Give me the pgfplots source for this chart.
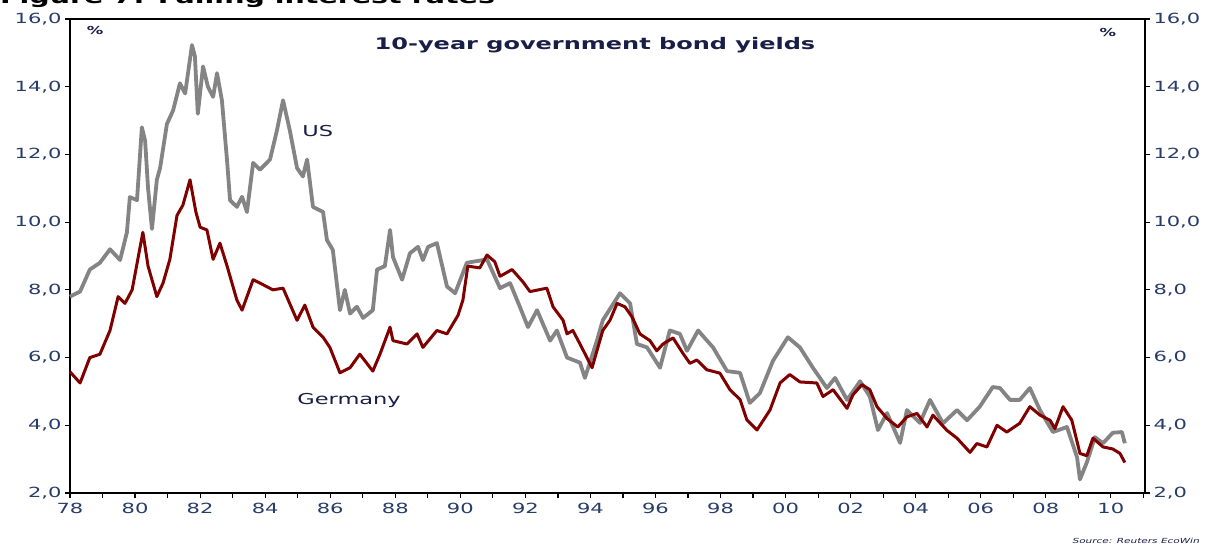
\documentclass[border=0pt]{standalone}
\usepackage{pgfplots}
\pgfplotsset{compat=1.18}
\usepackage{pgfplotstable}
\usepackage{fontspec}
\setmainfont{DejaVu Sans}
\newfontfamily\wide{DejaVu Sans}[FakeStretch=1.5]
\definecolor{ticklab}{RGB}{40,60,105}
\definecolor{usgray}{RGB}{132,132,132}
\definecolor{dered}{RGB}{128,0,0}
\definecolor{navy}{RGB}{25,30,70}

\pgfplotstableread{
year yield
1978.00 7.80
1978.31 7.95
1978.61 8.60
1978.92 8.80
1979.23 9.20
1979.54 8.88
1979.75 9.70
1979.84 10.74
1980.06 10.65
1980.21 12.80
1980.31 12.40
1980.40 11.00
1980.52 9.80
1980.67 11.25
1980.77 11.60
1980.98 12.90
1981.17 13.30
1981.38 14.10
1981.54 13.80
1981.75 15.23
1981.84 14.90
1981.93 13.20
1982.09 14.60
1982.24 14.00
1982.40 13.70
1982.52 14.40
1982.67 13.60
1982.83 11.80
1982.92 10.65
1983.13 10.45
1983.29 10.75
1983.44 10.30
1983.63 11.75
1983.84 11.55
1984.15 11.85
1984.36 12.70
1984.55 13.60
1984.76 12.70
1984.98 11.60
1985.16 11.35
1985.29 11.85
1985.47 10.45
1985.78 10.30
1985.90 9.47
1986.08 9.18
1986.30 7.40
1986.45 8.00
1986.61 7.30
1986.82 7.50
1987.01 7.17
1987.31 7.40
1987.44 8.60
1987.68 8.70
1987.84 9.77
1987.93 8.97
1988.21 8.30
1988.45 9.08
1988.70 9.27
1988.85 8.88
1989.01 9.27
1989.28 9.38
1989.59 8.10
1989.84 7.90
1990.20 8.80
1990.82 8.90
1991.22 8.05
1991.53 8.20
1991.83 7.50
1992.08 6.90
1992.36 7.40
1992.76 6.50
1992.97 6.80
1993.28 6.00
1993.68 5.85
1993.83 5.40
1994.20 6.50
1994.38 7.10
1994.91 7.90
1995.22 7.60
1995.43 6.40
1995.74 6.30
1996.14 5.70
1996.44 6.80
1996.75 6.70
1996.97 6.20
1997.31 6.80
1997.77 6.30
1998.20 5.60
1998.60 5.55
1998.90 4.66
1999.21 4.95
1999.61 5.90
2000.07 6.60
2000.44 6.30
2000.84 5.70
2001.27 5.10
2001.52 5.40
2001.89 4.75
2002.29 5.30
2002.59 4.85
2002.84 3.86
2003.12 4.36
2003.52 3.48
2003.73 4.45
2004.13 4.07
2004.44 4.75
2004.84 4.06
2005.27 4.45
2005.58 4.15
2005.97 4.55
2006.37 5.13
2006.59 5.10
2006.90 4.75
2007.20 4.75
2007.51 5.10
2007.82 4.45
2008.22 3.80
2008.65 3.95
2008.96 3.06
2009.05 2.40
2009.26 2.90
2009.51 3.65
2009.76 3.47
2010.06 3.78
2010.34 3.80
2010.43 3.47
}\us

\pgfplotstableread{
year yield
1978.00 5.58
1978.31 5.25
1978.61 6.00
1978.92 6.10
1979.23 6.80
1979.48 7.80
1979.69 7.60
1979.91 8.00
1980.24 9.70
1980.40 8.70
1980.67 7.80
1980.86 8.20
1981.07 8.90
1981.29 10.20
1981.47 10.50
1981.69 11.25
1981.87 10.30
1982.00 9.85
1982.21 9.77
1982.40 8.90
1982.61 9.38
1982.83 8.70
1983.13 7.70
1983.29 7.40
1983.63 8.30
1983.84 8.20
1984.24 8.00
1984.55 8.05
1984.98 7.10
1985.22 7.55
1985.47 6.90
1985.78 6.60
1985.99 6.30
1986.30 5.55
1986.61 5.70
1986.91 6.10
1987.31 5.60
1987.53 6.10
1987.84 6.90
1987.93 6.50
1988.36 6.40
1988.67 6.70
1988.85 6.30
1989.28 6.80
1989.59 6.70
1989.93 7.25
1990.08 7.70
1990.23 8.70
1990.60 8.65
1990.82 9.03
1991.06 8.83
1991.22 8.40
1991.59 8.60
1991.93 8.23
1992.14 7.95
1992.66 8.05
1992.85 7.50
1993.16 7.10
1993.28 6.70
1993.46 6.80
1993.68 6.40
1994.05 5.70
1994.38 6.80
1994.60 7.10
1994.82 7.60
1995.06 7.50
1995.28 7.20
1995.52 6.70
1995.83 6.50
1996.04 6.20
1996.23 6.40
1996.54 6.58
1996.84 6.13
1997.06 5.83
1997.27 5.93
1997.58 5.64
1997.98 5.54
1998.29 5.05
1998.60 4.76
1998.81 4.16
1999.12 3.86
1999.52 4.45
1999.83 5.25
2000.13 5.50
2000.44 5.28
2000.96 5.25
2001.15 4.85
2001.46 5.05
2001.89 4.50
2002.07 4.90
2002.35 5.20
2002.59 5.05
2002.81 4.55
2003.12 4.20
2003.45 3.95
2003.73 4.25
2004.04 4.35
2004.35 3.95
2004.53 4.30
2004.96 3.85
2005.27 3.62
2005.67 3.20
2005.88 3.46
2006.19 3.36
2006.50 4.00
2006.80 3.80
2007.20 4.06
2007.51 4.55
2007.82 4.30
2008.13 4.15
2008.28 3.90
2008.53 4.55
2008.80 4.15
2009.05 3.17
2009.26 3.10
2009.45 3.62
2009.76 3.36
2010.06 3.30
2010.28 3.17
2010.43 2.90
}\germany

\begin{document}
\begin{tikzpicture}
\pgfplotsset{
  bondaxis/.style={
    scale only axis, width=1075bp, height=474bp,
    xmin=1978, xmax=2011.05, ymin=2, ymax=16,
    axis line style={line width=1.6bp, black},
    ytick={2,4,...,16},
    tick align=outside,
    major tick length=5bp, minor tick length=5bp,
    every tick/.style={black, line width=1.2bp},
    tick label style={font=\wide\fontsize{14bp}{16bp}\selectfont, text=ticklab},
    yticklabel style={/pgf/number format/.cd, fixed, fixed zerofill, precision=1, use comma, assume math mode=true},
  }
}
\begin{axis}[
  bondaxis, name=main,
  xtick={1978,1980,...,2010},
  xticklabels={78,80,82,84,86,88,90,92,94,96,98,00,02,04,06,08,10},
  minor xtick={1979,1981,...,2011},
  xtick pos=lower, ytick pos=left,
  xticklabel style={yshift=-2bp},
  clip=false,
]
\addplot[usgray, line width=3.8bp, line join=round] table[x=year, y=yield] {\us};
\addplot[dered, line width=3bp, line join=round] table[x=year, y=yield] {\germany};
\node[font=\wide\bfseries\fontsize{16bp}{18bp}\selectfont, text=navy] at (axis cs:1994.14,15.23) {10-year government bond yields};
\node[font=\wide\fontsize{15bp}{17bp}\selectfont, text=navy] at (axis cs:1985.62,12.69) {US};
\node[font=\wide\fontsize{15bp}{17bp}\selectfont, text=navy] at (axis cs:1986.58,4.72) {Germany};
\node[font=\wide\bfseries\fontsize{11bp}{13bp}\selectfont, text=navy] at (axis cs:1978.77,15.65) {\%};
\node[font=\wide\bfseries\fontsize{11bp}{13bp}\selectfont, text=navy] at (axis cs:2009.91,15.59) {\%};
\end{axis}
\begin{axis}[
  bondaxis,
  hide x axis,
  axis y line*=right,
  ytick pos=right, yticklabel pos=right,
]
\end{axis}
\node[anchor=base west, font=\wide\bfseries\fontsize{19bp}{21bp}\selectfont, inner sep=0pt]
  at ([xshift=-70bp,yshift=15bp]main.north west) {Figure 7: Falling interest rates};
\node[anchor=east, font=\wide\itshape\fontsize{7bp}{8bp}\selectfont, text=navy, inner sep=0pt]
  at ([xshift=55bp,yshift=-48bp]main.south east) {Source: Reuters EcoWin};
\pgfresetboundingbox
\path[use as bounding box] ([xshift=-70bp,yshift=-52bp]main.south west) rectangle ([xshift=69bp,yshift=19bp]main.north east);
\end{tikzpicture}
\end{document}
